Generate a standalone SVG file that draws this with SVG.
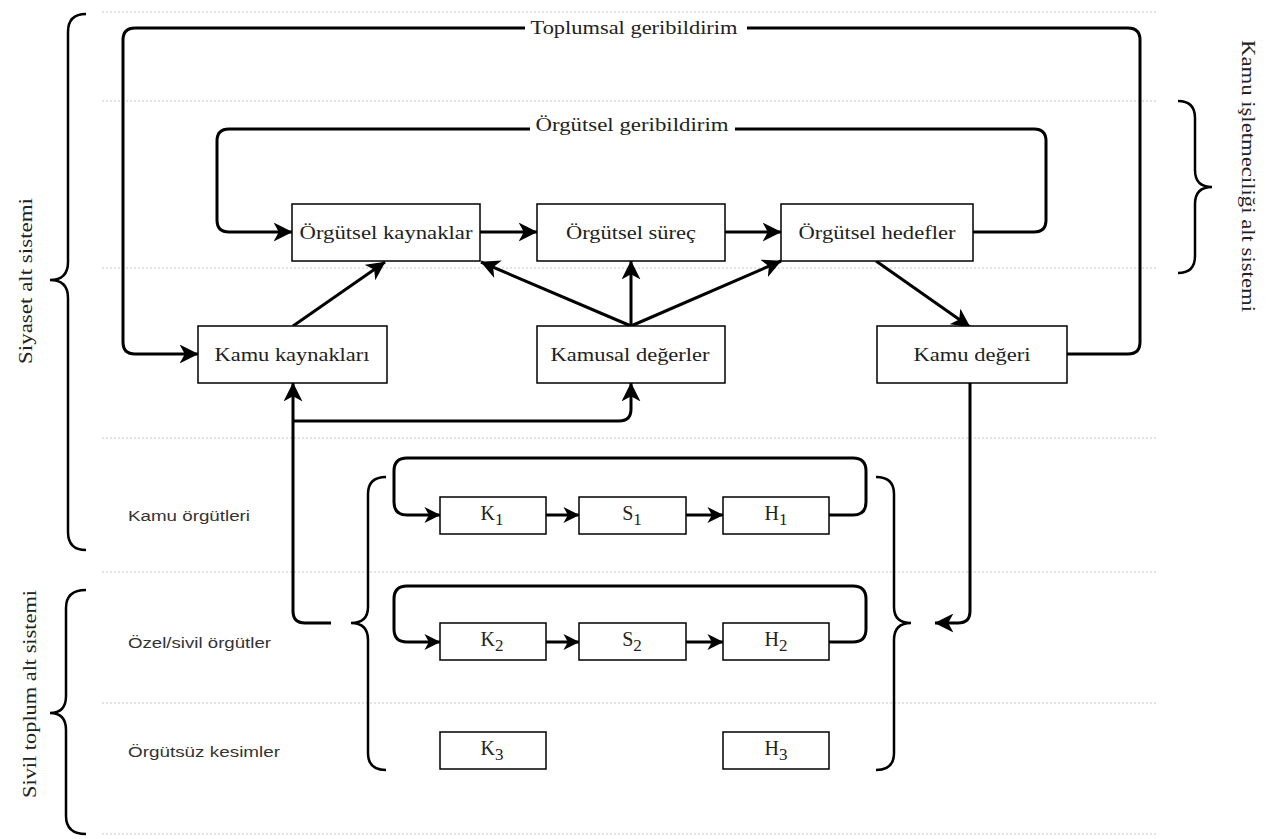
<svg xmlns="http://www.w3.org/2000/svg" width="1275" height="839" viewBox="0 0 1275 839">
<defs>
<marker id="arr" viewBox="0 0 18 18" refX="17.5" refY="9" markerWidth="19" markerHeight="19" orient="auto" markerUnits="userSpaceOnUse">
<path d="M0,0 L18,9 L0,18 L5,9 Z" fill="#000"/>
</marker>
<marker id="arrs" viewBox="0 0 18 18" refX="17.5" refY="9" markerWidth="16" markerHeight="16" orient="auto" markerUnits="userSpaceOnUse">
<path d="M0,0 L18,9 L0,18 L5,9 Z" fill="#000"/>
</marker>
<style>
.grid{stroke:#c8c8c8;stroke-width:1.2;stroke-dasharray:2 2;fill:none}
.brace{stroke:#000;stroke-width:2.5;fill:none}
.box{fill:#fff;stroke:#000;stroke-width:1.5}
.con{stroke:#000;stroke-width:3;fill:none}
.arr{marker-end:url(#arr)}
.arrs{marker-end:url(#arrs)}
.ser{font-family:"Liberation Serif","Times New Roman",serif;font-size:19px;fill:#222}
.big{font-size:20px}
.sub{font-size:17px}
.san{font-family:"Liberation Sans",Arial,sans-serif;font-size:14px;fill:#333}
</style>
</defs>
<g id="gridlines">
<line class="grid" x1="102" y1="12" x2="1158" y2="12"/>
<line class="grid" x1="102" y1="101" x2="1158" y2="101"/>
<line class="grid" x1="102" y1="268" x2="1158" y2="268"/>
<line class="grid" x1="102" y1="438" x2="1158" y2="438"/>
<line class="grid" x1="102" y1="572" x2="1158" y2="572"/>
<line class="grid" x1="102" y1="703" x2="1158" y2="703"/>
<line class="grid" x1="102" y1="834" x2="1158" y2="834"/>
</g>
<g id="braces">
<path class="brace" d="M86,14 Q68,14 68,32 L68,262 Q68,280 50,280 Q68,280 68,298 L68,532 Q68,550 86,550"/>
<path class="brace" d="M86,590 Q66,590 66,608 L66,696 Q66,713 50,713 Q66,713 66,730 L66,816 Q66,834 86,834"/>
<path class="brace" d="M1178,101 Q1195,101 1195,118 L1195,170 Q1195,187 1212,187 Q1195,187 1195,204 L1195,256 Q1195,273 1178,273"/>
<path class="brace" d="M386,477 Q368,477 368,494 L368,607 Q368,623 351,623 Q368,623 368,640 L368,753 Q368,770 386,770"/>
<path class="brace" d="M876,477 Q894,477 894,494 L894,607 Q894,623 911,623 Q894,623 894,640 L894,753 Q894,770 876,770"/>
</g>
<g id="side-labels">
<text class="ser" transform="translate(32,281) rotate(-90)" text-anchor="middle" textLength="166" lengthAdjust="spacingAndGlyphs">Siyaset alt sistemi</text>
<text class="ser" transform="translate(36,694) rotate(-90)" text-anchor="middle" textLength="208" lengthAdjust="spacingAndGlyphs">Sivil toplum alt sistemi</text>
<text class="ser" transform="translate(1242,176) rotate(90)" text-anchor="middle" textLength="272" lengthAdjust="spacingAndGlyphs">Kamu işletmeciliği alt sistemi</text>
<text class="san" x="128" y="521" textLength="122" lengthAdjust="spacingAndGlyphs">Kamu örgütleri</text>
<text class="san" x="128" y="648" textLength="143" lengthAdjust="spacingAndGlyphs">Özel/sivil örgütler</text>
<text class="san" x="128" y="757" textLength="152" lengthAdjust="spacingAndGlyphs">Örgütsüz kesimler</text>
</g>
<g id="connectors">
<path class="con arr" d="M1067,354 L1128,354 Q1140,354 1140,342 L1140,40 Q1140,28 1128,28 L135,28 Q123,28 123,40 L123,342 Q123,354 135,354 L198,354"/>
<path class="con arr" d="M973,232 L1034,232 Q1046,232 1046,220 L1046,141 Q1046,129 1034,129 L229,129 Q217,129 217,141 L217,220 Q217,232 229,232 L292,232"/>
<path class="con arr" d="M480,232 L537,232"/>
<path class="con arr" d="M725,232 L781,232"/>
<path class="con arr" d="M293,326 L385,262"/>
<path class="con arr" d="M631,326 L481,262"/>
<path class="con arr" d="M631,326 L631,261"/>
<path class="con arr" d="M631,326 L781,261"/>
<path class="con arr" d="M876,261 L970,327"/>
<path class="con arr" d="M331,623 L305,623 Q293,623 293,611 L293,383"/>
<path class="con arr" d="M293,421 L619,421 Q631,421 631,409 L631,383"/>
<path class="con arr" d="M970,383 L970,611 Q970,623 958,623 L935,623"/>
<path class="con arrs" d="M829,515 L853,515 Q866,515 866,502 L866,471 Q866,458 853,458 L407,458 Q394,458 394,471 L394,502 Q394,515 407,515 L440,515"/>
<path class="con arrs" d="M546,515 L579,515"/>
<path class="con arrs" d="M686,515 L723,515"/>
<path class="con arrs" d="M829,642 L853,642 Q866,642 866,629 L866,599 Q866,586 853,586 L407,586 Q394,586 394,599 L394,629 Q394,642 407,642 L440,642"/>
<path class="con arrs" d="M546,642 L579,642"/>
<path class="con arrs" d="M686,642 L723,642"/>
<rect x="525" y="16" width="222" height="24" fill="#fff"/>
<text class="ser" x="634" y="34" text-anchor="middle" textLength="207" lengthAdjust="spacingAndGlyphs">Toplumsal geribildirim</text>
<rect x="530" y="116" width="205" height="25" fill="#fff"/>
<text class="ser" x="632" y="131" text-anchor="middle" textLength="193" lengthAdjust="spacingAndGlyphs">Örgütsel geribildirim</text>
</g>
<g id="n-orgkay"><rect class="box" x="292" y="204" width="188" height="57"/><text class="ser" x="386" y="239" text-anchor="middle" textLength="173" lengthAdjust="spacingAndGlyphs">Örgütsel kaynaklar</text></g>
<g id="n-orgsur"><rect class="box" x="537" y="204" width="188" height="57"/><text class="ser" x="631" y="239" text-anchor="middle" textLength="130" lengthAdjust="spacingAndGlyphs">Örgütsel süreç</text></g>
<g id="n-orghed"><rect class="box" x="781" y="204" width="192" height="57"/><text class="ser" x="877" y="239" text-anchor="middle" textLength="157" lengthAdjust="spacingAndGlyphs">Örgütsel hedefler</text></g>
<g id="n-kamkay"><rect class="box" x="198" y="326" width="189" height="57"/><text class="ser" x="292" y="361" text-anchor="middle" textLength="155" lengthAdjust="spacingAndGlyphs">Kamu kaynakları</text></g>
<g id="n-kamdeg"><rect class="box" x="537" y="326" width="188" height="57"/><text class="ser" x="630" y="361" text-anchor="middle" textLength="159" lengthAdjust="spacingAndGlyphs">Kamusal değerler</text></g>
<g id="n-kamdgr"><rect class="box" x="877" y="326" width="190" height="57"/><text class="ser" x="972" y="361" text-anchor="middle" textLength="117" lengthAdjust="spacingAndGlyphs">Kamu değeri</text></g>
<g id="n-k1"><rect class="box" x="440" y="497" width="106" height="37"/><text class="ser big" x="492" y="520" text-anchor="middle">K<tspan class="sub" dy="5">1</tspan></text></g>
<g id="n-s1"><rect class="box" x="579" y="497" width="107" height="37"/><text class="ser big" x="632" y="520" text-anchor="middle">S<tspan class="sub" dy="5">1</tspan></text></g>
<g id="n-h1"><rect class="box" x="723" y="497" width="106" height="37"/><text class="ser big" x="776" y="520" text-anchor="middle">H<tspan class="sub" dy="5">1</tspan></text></g>
<g id="n-k2"><rect class="box" x="440" y="623" width="106" height="37"/><text class="ser big" x="492" y="646" text-anchor="middle">K<tspan class="sub" dy="5">2</tspan></text></g>
<g id="n-s2"><rect class="box" x="579" y="623" width="107" height="37"/><text class="ser big" x="632" y="646" text-anchor="middle">S<tspan class="sub" dy="5">2</tspan></text></g>
<g id="n-h2"><rect class="box" x="723" y="623" width="106" height="37"/><text class="ser big" x="776" y="646" text-anchor="middle">H<tspan class="sub" dy="5">2</tspan></text></g>
<g id="n-k3"><rect class="box" x="440" y="732" width="106" height="37"/><text class="ser big" x="492" y="755" text-anchor="middle">K<tspan class="sub" dy="5">3</tspan></text></g>
<g id="n-h3"><rect class="box" x="723" y="732" width="106" height="37"/><text class="ser big" x="776" y="755" text-anchor="middle">H<tspan class="sub" dy="5">3</tspan></text></g>
</svg>
